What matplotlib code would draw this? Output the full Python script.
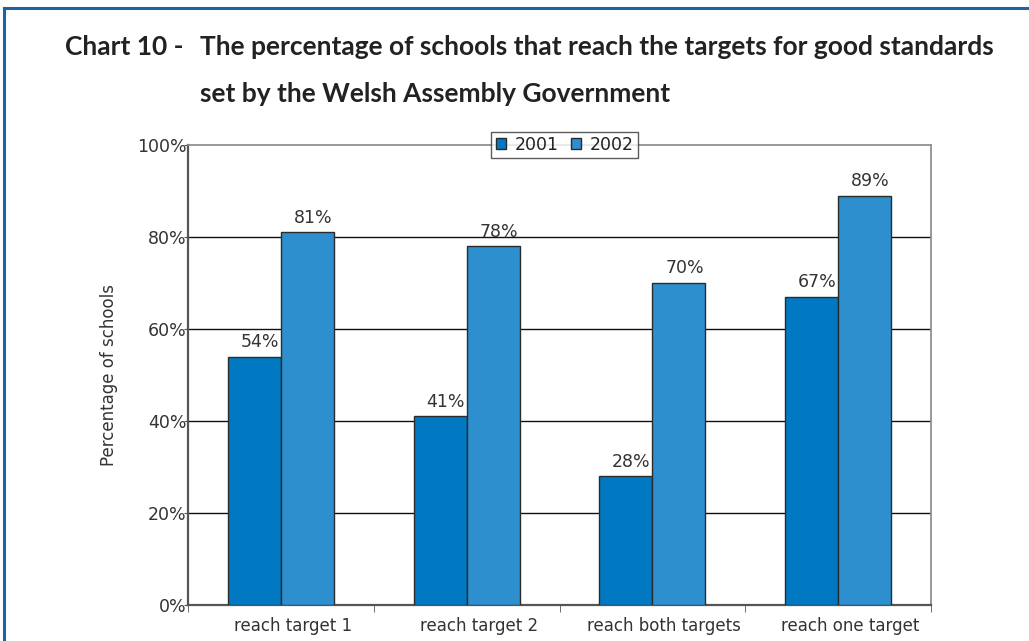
import numpy as np
import matplotlib.pyplot as plt
from matplotlib.lines import Line2D
from matplotlib.transforms import ScaledTranslation

# school target figures, percent of schools
categories = ['reach target 1', 'reach target 2', 'reach both targets', 'reach one target']
pct_2001 = [54, 41, 28, 67]
pct_2002 = [81, 78, 70, 89]
years = ['2001', '2002']
y_ticks = [0, 20, 40, 60, 80, 100]

col_2001 = '#0079c2'
col_2002 = '#2e8fce'
edge = '#2b2b2b'
txt = '#333333'

fig = plt.figure(figsize=(10.29, 6.41), dpi=100)

# blue frame round the chart panel
fig.add_artist(Line2D([0.004, 1.0], [0.987, 0.987], color='#1f62a8', lw=2.2))
fig.add_artist(Line2D([0.004, 0.004], [0.0, 0.987], color='#1f62a8', lw=2.2))

# title, two lines with a hanging indent
title_kw = dict(fontsize=19, fontweight='bold', family='Lato', color='#222222', va='center')
fig.text(0.063, 0.926, 'Chart 10 -', **title_kw)
fig.text(0.194, 0.926, 'The percentage of schools that reach the targets for good standards', **title_kw)
fig.text(0.194, 0.853, 'set by the Welsh Assembly Government', **title_kw)

ax = fig.add_axes([0.1827, 0.0562, 0.7221, 0.7176])

x = np.arange(len(categories))
w = 0.285
b1 = ax.bar(x - w / 2, pct_2001, w, color=col_2001, edgecolor=edge, linewidth=1, label=years[0], zorder=3)
b2 = ax.bar(x + w / 2, pct_2002, w, color=col_2002, edgecolor=edge, linewidth=1, label=years[1], zorder=3)

for bars in (b1, b2):
    for r in bars:
        v = r.get_height()
        ax.text(r.get_x() + r.get_width() / 2 + 0.03, v + 1.2, f'{v:.0f}%',
                ha='center', va='bottom', fontsize=12.5, color=txt, zorder=4)

ax.set_xlim(-0.5, len(categories) - 0.5)
ax.set_ylim(0, 100)

# gridlines: black inside, grey at the top
for t in y_ticks[1:-1]:
    ax.axhline(t, color='#111111', lw=1, zorder=1)

ax.set_yticks(y_ticks)
ax.set_yticklabels([f'{t}%' for t in y_ticks])
ax.set_xticks(x)
ax.set_xticklabels(categories)
ax.set_xticks(np.arange(len(categories) + 1) - 0.5, minor=True)
ax.tick_params(axis='x', which='major', length=0, pad=9, labelsize=12, labelcolor=txt)
ax.tick_params(axis='x', which='minor', length=5, color='#555555', direction='out')
ax.tick_params(axis='y', length=3, pad=-2, labelsize=12.5, labelcolor=txt, color='#555555')

# category labels sit a little right of the group centres
shift = ScaledTranslation(12 / 100, 0, fig.dpi_scale_trans)
for lab in ax.get_xticklabels():
    lab.set_transform(lab.get_transform() + shift)

for s in ['left', 'bottom']:
    ax.spines[s].set_color('#555555')
    ax.spines[s].set_linewidth(1.6)
for s in ['top', 'right']:
    ax.spines[s].set_color('#888888')
    ax.spines[s].set_linewidth(1.2)

ax.set_ylabel('Percentage of schools', fontsize=12, color=txt, labelpad=14)

leg = ax.legend(loc='center', bbox_to_anchor=(0.507, 1.0), ncol=2, frameon=True,
                fancybox=False, edgecolor='#333333', fontsize=12.5, handlelength=0.6,
                handleheight=0.6, handletextpad=0.5, columnspacing=0.7,
                borderpad=0.25, borderaxespad=0)
leg.get_frame().set_linewidth(1)
for t in leg.get_texts():
    t.set_color('#222222')

fig.savefig('out.png', dpi=100)
